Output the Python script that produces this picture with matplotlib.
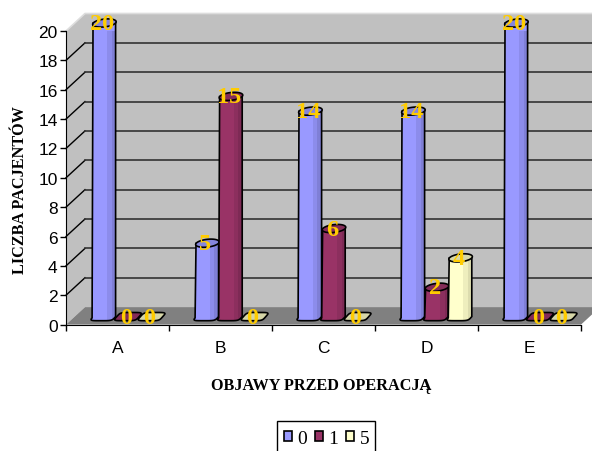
import numpy as np
import matplotlib
matplotlib.use('Agg')
import matplotlib.pyplot as plt
from matplotlib.patches import Polygon, Patch, Rectangle

categories = ['A', 'B', 'C', 'D', 'E']
series_names = ['0', '1', '5']
values_0 = [20, 5, 14, 14, 20]
values_1 = [0, 15, 6, 2, 0]
values_5 = [0, 0, 0, 4, 0]
yticks = list(range(0, 21, 2))

colors = ['#9999FF', '#993366', '#FFFFCC']
shades = ['#7F7FD6', '#7E2A55', '#DCDCAE']
tops = ['#8585DC', '#842C58', '#D6D6A8']

# one pixel in data units
px = 1 / 103.0
py = 1 / 14.68
dx, dy = 19 * px, 17.5 * py
bar_w = 23.6 * px


def outline(cx, cy, power=1.0, n=60):
    t = np.linspace(0, 2 * np.pi, n)
    c = np.sign(np.cos(t)) * np.abs(np.cos(t)) ** power
    s = np.sign(np.sin(t)) * np.abs(np.sin(t)) ** power
    x = cx + (11.2 * c + 3.6 * s) * px
    y = cy + 4.1 * s * py
    return x, y


def draw_bar(ax, cx, v, i, z):
    cy0 = 8 * py
    if v == 0:
        x, y = outline(cx, cy0, 0.4)
        ax.add_patch(Polygon(np.c_[x, y], fc=tops[i], ec='black', lw=1.2, zorder=z, clip_on=False))
        return
    bx, by = outline(cx, cy0, 0.4)
    half = len(bx) // 2
    lower_x, lower_y = bx[half:], by[half:]
    tx, ty = outline(cx, cy0 + v)
    body_x = np.r_[tx[0], lower_x[-1], lower_x[::-1][1:], tx[half]]
    body_y = np.r_[ty[0], lower_y[-1], lower_y[::-1][1:], ty[half]]
    body = Polygon(np.c_[body_x, body_y], fc=colors[i], ec='none', zorder=z, clip_on=False)
    ax.add_patch(body)
    # darker right part of the cylinder
    grad = np.array([[0, 0, 0, 0, 0, 0, 1, 1, 2, 2]])
    cmap = matplotlib.colors.ListedColormap([colors[i], matplotlib.colors.to_hex(
        0.5 * np.array(matplotlib.colors.to_rgb(colors[i])) + 0.5 * np.array(matplotlib.colors.to_rgb(shades[i]))), shades[i]])
    im = ax.imshow(grad, cmap=cmap, aspect='auto', zorder=z, interpolation='nearest',
                   extent=[cx - 11.5 * px, cx + 11.5 * px, 0, cy0 + v + 6 * py])
    im.set_clip_path(body)
    ax.add_patch(Polygon(np.c_[body_x, body_y], fc='none', ec='black', lw=1.2, zorder=z + 0.1, clip_on=False))
    ax.add_patch(Polygon(np.c_[tx, ty], fc=tops[i], ec='black', lw=1.2, zorder=z + 0.2, clip_on=False))


fig = plt.figure(figsize=(5.92, 4.52), dpi=100)
ax = fig.add_axes([66 / 592, (452 - 325.6) / 452, 515 / 592, (325.6 - 32) / 452])

ax.add_patch(Polygon([(dx, dy), (5 + dx, dy), (5 + dx, 20 + dy), (dx, 20 + dy)], fc='#C0C0C0', ec='none', zorder=1, clip_on=False))
ax.add_patch(Polygon([(0, 0), (dx, dy), (dx, 20 + dy), (0, 20)], fc='#C0C0C0', ec='none', zorder=1, clip_on=False))
ax.add_patch(Polygon([(0, 0), (5, 0), (5 + dx, dy), (dx, dy)], fc='#808080', ec='none', zorder=1.1, clip_on=False))
ax.plot([0, dx, 5 + dx], [20, 20 + dy, 20 + dy], color='#DDDDDD', lw=1.2, zorder=1.2, clip_on=False)

for v in yticks[1:-1]:
    ax.plot([0, dx], [v, v + dy], color='black', lw=1, zorder=1.3, clip_on=False)
    ax.plot([dx, 5 + dx], [v + dy, v + dy], color='#333333', lw=1.2, zorder=1.3, clip_on=False)

series = [values_0, values_1, values_5]
z = 3
for k in range(len(categories)):
    for i, vals in enumerate(series):
        cx = k + 0.5 + 10.5 * px + (i - 1) * bar_w
        draw_bar(ax, cx, vals[k], i, z)
        z += 1
for k in range(len(categories)):
    for i, vals in enumerate(series):
        cx = k + 0.5 + 10.5 * px + (i - 1) * bar_w
        ax.text(cx - 2 * px, vals[k] + 8 * py - 0.5 * py, str(vals[k]), color='#FFCC00', ha='center', va='center',
                family='Liberation Serif', weight='bold', fontsize=17.5, zorder=50, clip_on=False)

ax.set_xlim(0, 5)
ax.set_ylim(0, 20)
ax.set_facecolor('none')
ax.spines['top'].set_visible(False)
ax.spines['right'].set_visible(False)
ax.spines['left'].set_zorder(40)
ax.spines['bottom'].set_zorder(40)
ax.set_yticks(yticks)
ax.set_yticklabels([str(v) for v in yticks], family='Liberation Sans', fontsize=12.5)
ax.set_xticks(range(6))
ax.set_xticklabels([])
ax.set_xticks(np.arange(5) + 0.5, minor=True)
ax.set_xticklabels(categories, minor=True, family='Liberation Sans', fontsize=12.5)
ax.tick_params(axis='x', which='major', length=4, width=1)
ax.tick_params(axis='x', which='minor', length=0, pad=11)
ax.tick_params(axis='y', length=4, width=1, pad=2)

fig.text(20 / 592, 1 - 190 / 452, 'LICZBA PACJENTÓW', rotation=90, ha='center', va='center',
         family='Liberation Serif', weight='bold', fontsize=11.7)
fig.text(321 / 592, 1 - 386 / 452, 'OBJAWY PRZED OPERACJĄ', ha='center', va='center',
         family='Liberation Serif', weight='bold', fontsize=11.7)

# legend frame runs off the bottom of the picture
fig.add_artist(Rectangle((277 / 592, -10 / 452), 98 / 592, 40 / 452, transform=fig.transFigure,
                         fc='white', ec='black', lw=1, zorder=-1))
handles = [Patch(fc=colors[i], ec='black', lw=1.2) for i in range(3)]
leg = ax.legend(handles, series_names, ncol=3, loc='upper left', bbox_to_anchor=(284 / 592, 1 - 431 / 452),
                bbox_transform=fig.transFigure, borderaxespad=0, frameon=False, borderpad=0,
                handlelength=0.41, handleheight=0.41, handletextpad=0.26, columnspacing=0.43,
                prop={'family': 'Liberation Serif', 'size': 14})
leg.set_zorder(60)

plt.savefig('out.png', dpi=100)
